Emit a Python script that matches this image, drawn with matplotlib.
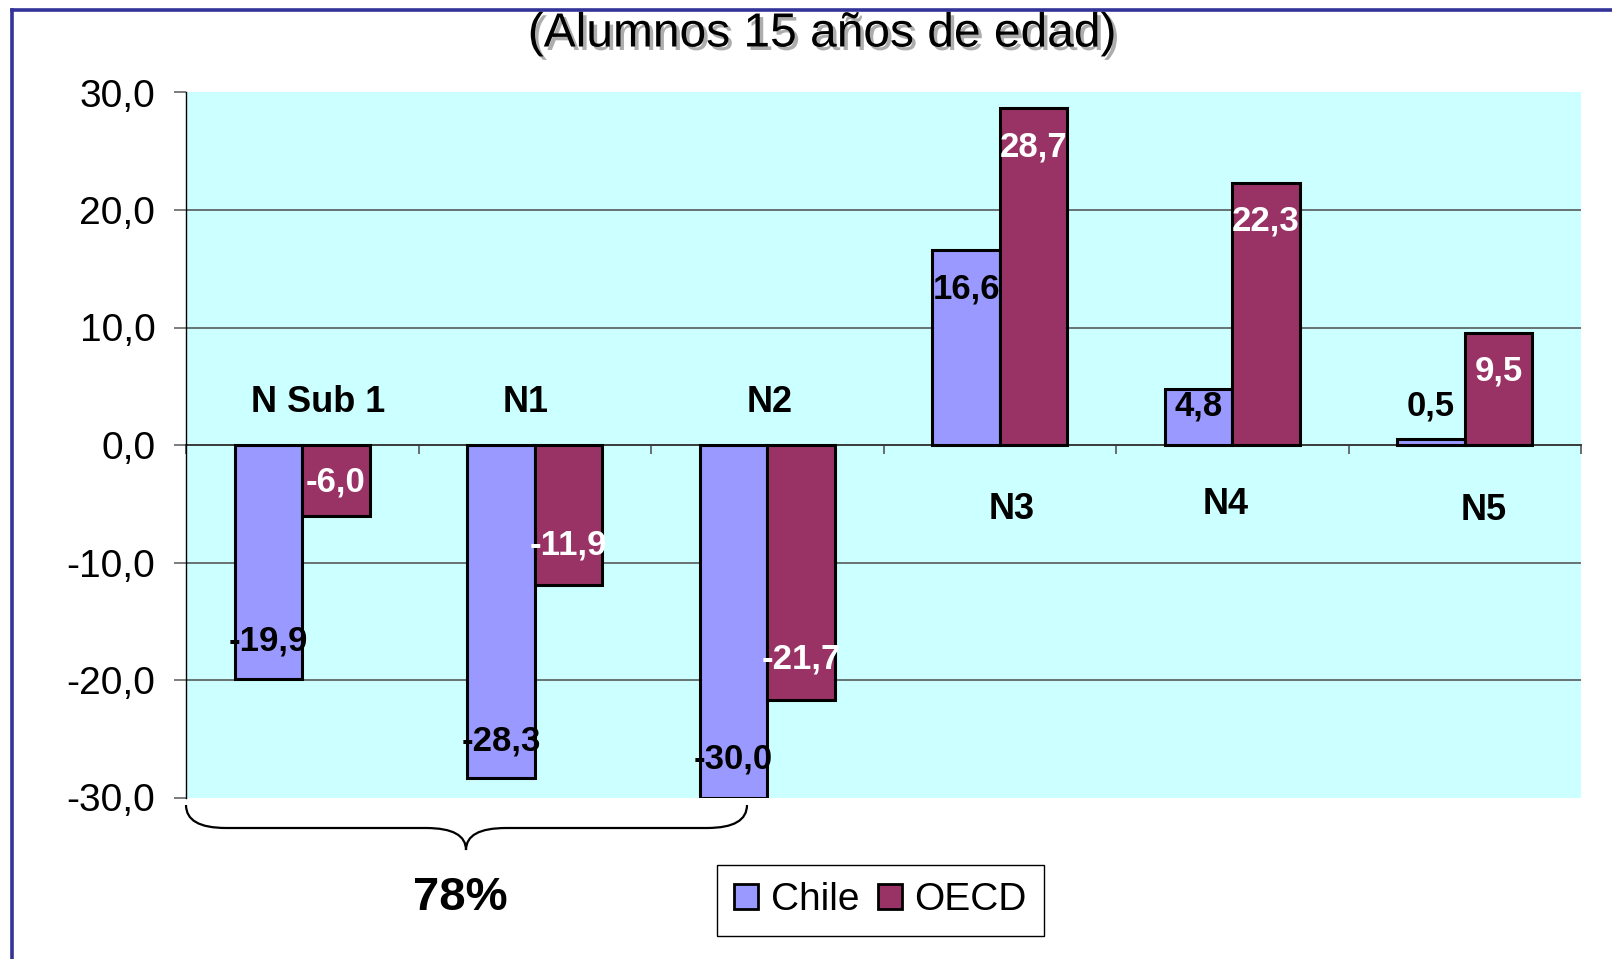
import matplotlib
matplotlib.use("Agg")
import matplotlib.pyplot as plt
import matplotlib.patheffects as pe
from matplotlib.patches import Rectangle, PathPatch
from matplotlib.path import Path
from matplotlib.lines import Line2D
from matplotlib.ticker import FuncFormatter, FixedLocator
import numpy as np

# ---------------- data ----------------
categories = ["N Sub 1", "N1", "N2", "N3", "N4", "N5"]
chile = [-19.9, -28.3, -30.0, 16.6, 4.8, 0.5]
oecd = [-6.0, -11.9, -21.7, 28.7, 22.3, 9.5]
series_names = ["Chile", "OECD"]
yticks = [-30, -20, -10, 0, 10, 20, 30]
title_text = "(Alumnos 15 años de edad)"
brace_text = "78%"

# ---------------- style / layout ----------------
W, H = 1612, 959
DPI = 100
FONT = ["Liberation Sans", "DejaVu Sans"]
plt.rcParams["font.family"] = FONT

C_CHILE = "#9999FF"
C_OECD = "#993366"
BG = "#CCFFFF"
FRAME = "#333399"

bar_w = 0.29
# category-label placement (x offset from category centre, y in value units)
cat_dx = [0.07, -0.04, 0.01, 0.05, -0.03, 0.08]
cat_y = [3.65, 3.65, 3.65, -5.45, -5.1, -5.6]
# data-label distance (px) from bar end towards zero (negative: outside)
chile_off = [38, 36.5, 39, 39, 17.5, -33]
oecd_off = [33.5, 40, 41, 39, 38, 38]
chile_lab_col = ["black"] * 6
oecd_lab_col = ["white"] * 6

def fx(px):
    return px / W

def fy(py):
    return 1 - py / H

fig = plt.figure(figsize=(W / DPI, H / DPI), dpi=DPI)
fig.patch.set_facecolor("white")

ax = fig.add_axes([fx(186), fy(797.5), fx(1581) - fx(186), fy(92.5) - fy(797.5)])
ax.set_facecolor(BG)
ax.set_xlim(-0.5, len(categories) - 0.5)
ax.set_ylim(-30, 30)

x = np.arange(len(categories))

# grid lines
for v in yticks:
    if v not in (0, 30, -30):
        ax.axhline(v, color="#4d4d4d", lw=1.1, zorder=1)

ax.bar(x - bar_w / 2, chile, width=bar_w, color=C_CHILE, edgecolor="black",
       linewidth=2.2, zorder=3, label=series_names[0])
ax.bar(x + bar_w / 2, oecd, width=bar_w, color=C_OECD, edgecolor="black",
       linewidth=2.2, zorder=3, label=series_names[1])

def fmt(v):
    return f"{v:.1f}".replace(".", ",")

px2pt = 72 / DPI
for i in range(len(categories)):
    for vals, offs, cols, dx in ((chile, chile_off, chile_lab_col, -bar_w / 2),
                                 (oecd, oecd_off, oecd_lab_col, bar_w / 2)):
        v = vals[i]
        s = 1 if v >= 0 else -1
        ax.annotate(fmt(v), xy=(i + dx, v), xytext=(0, -s * offs[i] * px2pt),
                    textcoords="offset points", ha="center", va="center",
                    fontsize=25, fontweight="bold", color=cols[i], zorder=5)

for i, c in enumerate(categories):
    ax.text(i + cat_dx[i], cat_y[i], c, ha="center", va="center",
            fontsize=26, fontweight="bold", color="black", zorder=5)

# axes styling
for sp in ("top", "right"):
    ax.spines[sp].set_visible(False)
ax.spines["left"].set_color("black")
ax.spines["left"].set_linewidth(1.0)
ax.spines["bottom"].set_position(("data", 0))
ax.spines["bottom"].set_color("#3a3a3a")
ax.spines["bottom"].set_linewidth(1.4)
ax.spines["bottom"].set_zorder(2)

ax.yaxis.set_major_locator(FixedLocator(yticks))
ax.yaxis.set_major_formatter(FuncFormatter(lambda v, p: fmt(v)))
ax.tick_params(axis="y", direction="out", length=8.6, width=1.2, color="#666666",
               labelsize=28, pad=13.5, labelcolor="black")
ax.xaxis.set_major_locator(FixedLocator(np.arange(len(categories) + 1) - 0.5))
ax.tick_params(axis="x", direction="out", length=6.5, width=1.2, color="#555555",
               labelbottom=False)

# legend
handles = [Rectangle((0, 0), 1, 1, facecolor=C_CHILE, edgecolor="black", lw=2),
           Rectangle((0, 0), 1, 1, facecolor=C_OECD, edgecolor="black", lw=2)]
leg = fig.legend(handles, series_names, loc="center",
                 bbox_to_anchor=(fx(880.5), fy(900.5)), ncol=2, fontsize=28,
                 frameon=True, fancybox=False, edgecolor="black", facecolor="white",
                 framealpha=1, handlelength=0.62, handleheight=0.62,
                 handletextpad=0.33, columnspacing=0.46, borderpad=0.45,
                 borderaxespad=0)
leg.get_frame().set_linewidth(1.0)

# brace
pts = [(186, 805), (186, 828), (226, 828), (426, 828), (466, 828), (466, 850),
       (466, 828), (506, 828), (707, 828), (747, 828), (747, 805)]
codes = [Path.MOVETO, Path.CURVE3, Path.CURVE3, Path.LINETO, Path.CURVE3, Path.CURVE3,
         Path.CURVE3, Path.CURVE3, Path.LINETO, Path.CURVE3, Path.CURVE3]
verts = [(fx(a), fy(b)) for a, b in pts]
fig.add_artist(PathPatch(Path(verts, codes), transform=fig.transFigure,
                         facecolor="none", edgecolor="black", lw=1.6))
fig.text(fx(460.5), fy(898), brace_text, ha="center", va="center",
         fontsize=34, fontweight="bold", color="black")

# title with shadow
fig.text(fx(822), fy(34), title_text, ha="center", va="center", fontsize=34.5,
         color="black",
         path_effects=[pe.withSimplePatchShadow(offset=(2.5, -2.5),
                                                shadow_rgbFace="#999999", alpha=0.8)])

# slide frame lines
fig.add_artist(Line2D([fx(12), 1.0], [fy(10), fy(10)], transform=fig.transFigure,
                      color=FRAME, lw=2.6))
fig.add_artist(Line2D([fx(12), fx(12)], [fy(10), 0], transform=fig.transFigure,
                      color=FRAME, lw=2.6))

fig.savefig("out.png", dpi=DPI, facecolor="white")
